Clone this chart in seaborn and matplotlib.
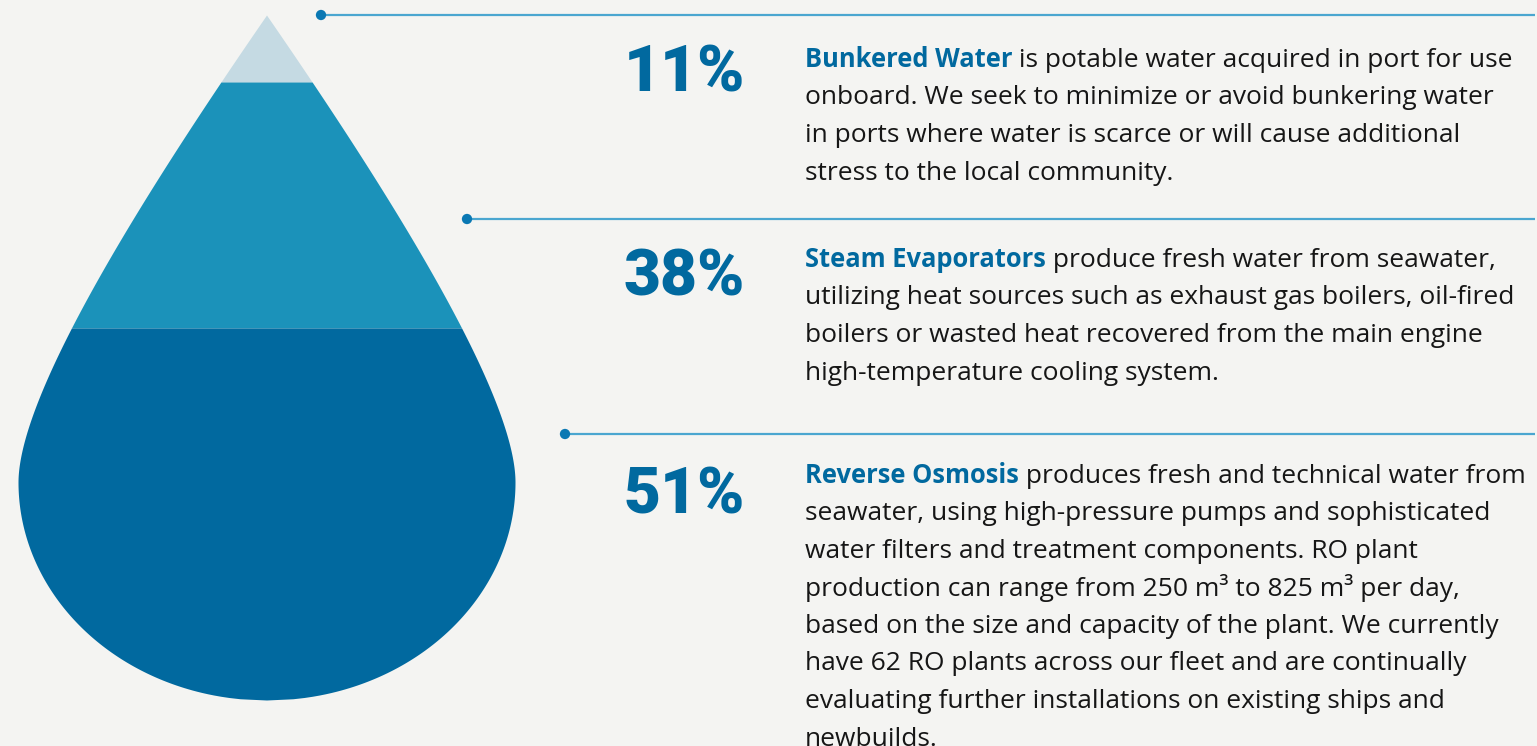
import matplotlib
matplotlib.use("Agg")
import matplotlib.pyplot as plt
import seaborn as sns
import numpy as np
import pandas as pd

# dados do gráfico
shares = [11, 38, 51]
sources = ["Bunkered Water", "Steam Evaporators", "Reverse Osmosis"]
first_rest = [
    " is potable water acquired in port for use",
    " produce fresh water from seawater,",
    " produces fresh and technical water from",
]
other_lines = [
    [
        "onboard. We seek to minimize or avoid bunkering water",
        "in ports where water is scarce or will cause additional",
        "stress to the local community.",
    ],
    [
        "utilizing heat sources such as exhaust gas boilers, oil-fired",
        "boilers or wasted heat recovered from the main engine",
        "high-temperature cooling system.",
    ],
    [
        "seawater, using high-pressure pumps and sophisticated",
        "water filters and treatment components. RO plant",
        "production can range from 250 m\u00b3 to 825 m\u00b3 per day,",
        "based on the size and capacity of the plant. We currently",
        "have 62 RO plants across our fleet and are continually",
        "evaluating further installations on existing ships and",
        "newbuilds.",
    ],
]

# cores
BG = "#f4f4f2"
BAND_COLORS = ["#c5dae3", "#1b92ba", "#01699f"]
RULE_COLOR = "#4aa6d0"
DOT_COLOR = "#0a78b3"
PCT_COLOR = "#01699f"
TEXT_COLOR = "#161616"

# layout (pixels)
W, H = 1537, 746
CX, TIP_Y, WIDE_Y, BOTTOM_Y, HALF_W = 266.5, 15, 482, 700, 248.5
BAND_CUTS = [TIP_Y, 82, 328, BOTTOM_Y]
RULE_Y = [15, 219, 434]
RULE_X0 = [321, 467, 565]
PCT_BASE = [92, 296, 513]
TEXT_BASE = [67, 267, 483]
TEXT_X = 805
PCT_X = 745
LINE_STEP = 37.5
BODY_SIZE = 19
BOLD_SIZE = 18.4

sns.set_theme(style="white", rc={"axes.facecolor": BG, "figure.facecolor": BG})
plt.rcParams["font.family"] = ["Open Sans", "DejaVu Sans"]


def drop_halfwidth(y):
    # parte de cima: curva bezier da ponta até a largura máxima
    u = np.linspace(0, 1, 600)
    p0 = np.array([0.0, TIP_Y])
    p1 = np.array([103.5, TIP_Y + 150])
    p2 = np.array([HALF_W, WIDE_Y - 95])
    p3 = np.array([HALF_W, WIDE_Y])
    b = ((1 - u) ** 3)[:, None] * p0 + (3 * (1 - u) ** 2 * u)[:, None] * p1 \
        + (3 * (1 - u) * u ** 2)[:, None] * p2 + (u ** 3)[:, None] * p3
    w_top = np.interp(y, b[:, 1], b[:, 0])
    # parte de baixo: meia elipse
    t = np.clip((y - WIDE_Y) / (BOTTOM_Y - WIDE_Y), 0, 1)
    w_bot = HALF_W * np.sqrt(1 - t ** 2)
    return np.where(y <= WIDE_Y, w_top, w_bot)


fig = plt.figure(figsize=(W / 100, H / 100), dpi=100)
ax = fig.add_axes([0, 0, 1, 1])

# gota com as três faixas
for i, col in enumerate(BAND_COLORS):
    yy = np.linspace(BAND_CUTS[i], BAND_CUTS[i + 1], 300)
    ww = drop_halfwidth(yy)
    ax.fill_betweenx(yy, CX - ww, CX + ww, color=col, lw=0)

# linhas separadoras com ponto
for y0, x0 in zip(RULE_Y, RULE_X0):
    ax.plot([x0, W - 2], [y0, y0], color=RULE_COLOR, lw=1.6, solid_capstyle="butt")
dots = pd.DataFrame({"x": RULE_X0, "y": RULE_Y})
sns.scatterplot(data=dots, x="x", y="y", ax=ax, color=DOT_COLOR, s=55,
                edgecolor="none", legend=False, zorder=3)
ax.set_xlim(0, W)
ax.set_ylim(H, 0)
ax.axis("off")

renderer = fig.canvas.get_renderer()
inv = ax.transData.inverted()

for i in range(3):
    ax.text(PCT_X, PCT_BASE[i], f"{shares[i]}%", ha="right", va="baseline",
            fontsize=46, fontweight="black", color=PCT_COLOR, family=["Roboto"])
    t = ax.text(TEXT_X, TEXT_BASE[i], sources[i], ha="left", va="baseline",
                fontsize=BOLD_SIZE, fontweight="bold", color=PCT_COLOR)
    bb = t.get_window_extent(renderer)
    x_end = inv.transform((bb.x1, bb.y0))[0]
    ax.text(x_end, TEXT_BASE[i], first_rest[i], ha="left", va="baseline",
            fontsize=BODY_SIZE, color=TEXT_COLOR)
    for j, line in enumerate(other_lines[i]):
        ax.text(TEXT_X, TEXT_BASE[i] + (j + 1) * LINE_STEP, line, ha="left",
                va="baseline", fontsize=BODY_SIZE, color=TEXT_COLOR)

fig.savefig("out.png", dpi=100, facecolor=BG)
